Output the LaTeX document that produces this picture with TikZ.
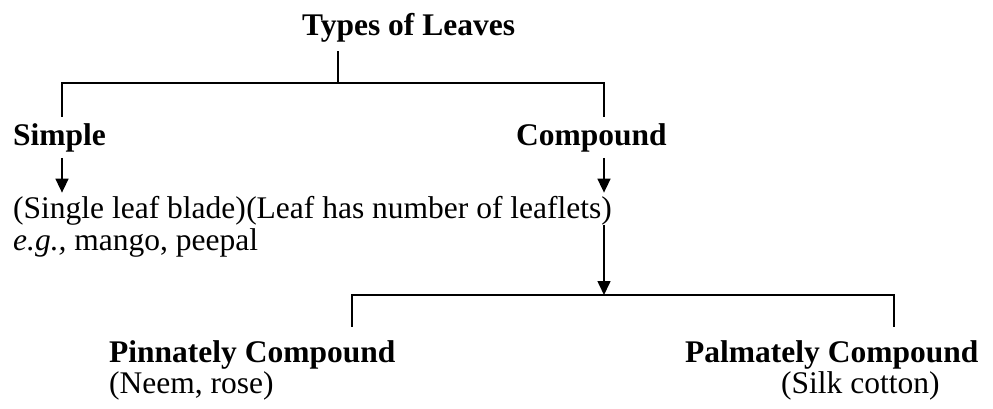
\documentclass[tikz,border=0pt]{standalone}
\usepackage{fontspec}
\setmainfont{Liberation Serif}
\usetikzlibrary{arrows.meta,positioning}
\tikzset{
  head/.style={font=\bfseries\fontsize{31.5}{34}\selectfont, inner sep=0pt, anchor=base west},
  body/.style={font=\fontsize{31.5}{34}\selectfont, inner sep=0pt, anchor=base west},
  link/.style={line width=1.6pt},
  arr/.style={line width=1.6pt, -{Triangle[width=13pt,length=14pt]}}
}
\begin{document}
\begin{tikzpicture}[x=1pt,y=-1pt]
  \useasboundingbox (0,0) rectangle (993,408);
  \node[head] (types) at (302,35) {Types of Leaves};
  \node[head] (simple) at (13,145) {Simple};
  \node[head] (compound) at (516,145) {Compound};
  \node[body] (single) at (13,218) {(Single leaf blade)};
  \node[body] (leaflets) at (single.base east) {(Leaf has number of leaflets)};
  \node[body] (mango) at (13,250) {\textit{e.g.,} mango, peepal};
  \node[head] (pinnate) at (109,362) {Pinnately Compound};
  \node[body] (neem) at (109,393) {(Neem, rose)};
  \node[head] (palmate) at (685,362) {Palmately Compound};
  \node[body] (silk) at (781,393) {(Silk cotton)};
  % bracket points
  \coordinate (hub) at (338,83);
  \coordinate (left) at (62,83);
  \coordinate (right) at (604,83);
  \coordinate (lowhub) at (604,295);
  \coordinate (lowleft) at (352,295);
  \coordinate (lowright) at (894,295);
  \draw[link, shorten <=9pt] (types.south -| hub) -- (hub);
  \draw[link, shorten <=6pt, shorten >=6pt] (simple.north -| left) -- (left) -- (right) -- (compound.north -| right);
  \draw[arr, shorten <=6pt, shorten >=3pt] (simple.south -| left) -- (single.north -| left);
  \draw[arr, shorten <=6pt, shorten >=3pt] (compound.south -| right) -- (leaflets.north -| right);
  \draw[arr] (leaflets.south -| lowhub) -- (lowhub);
  \draw[link, shorten <=13pt, shorten >=13pt] (pinnate.north -| lowleft) -- (lowleft) -- (lowright) -- (palmate.north -| lowright);
\end{tikzpicture}
\end{document}
